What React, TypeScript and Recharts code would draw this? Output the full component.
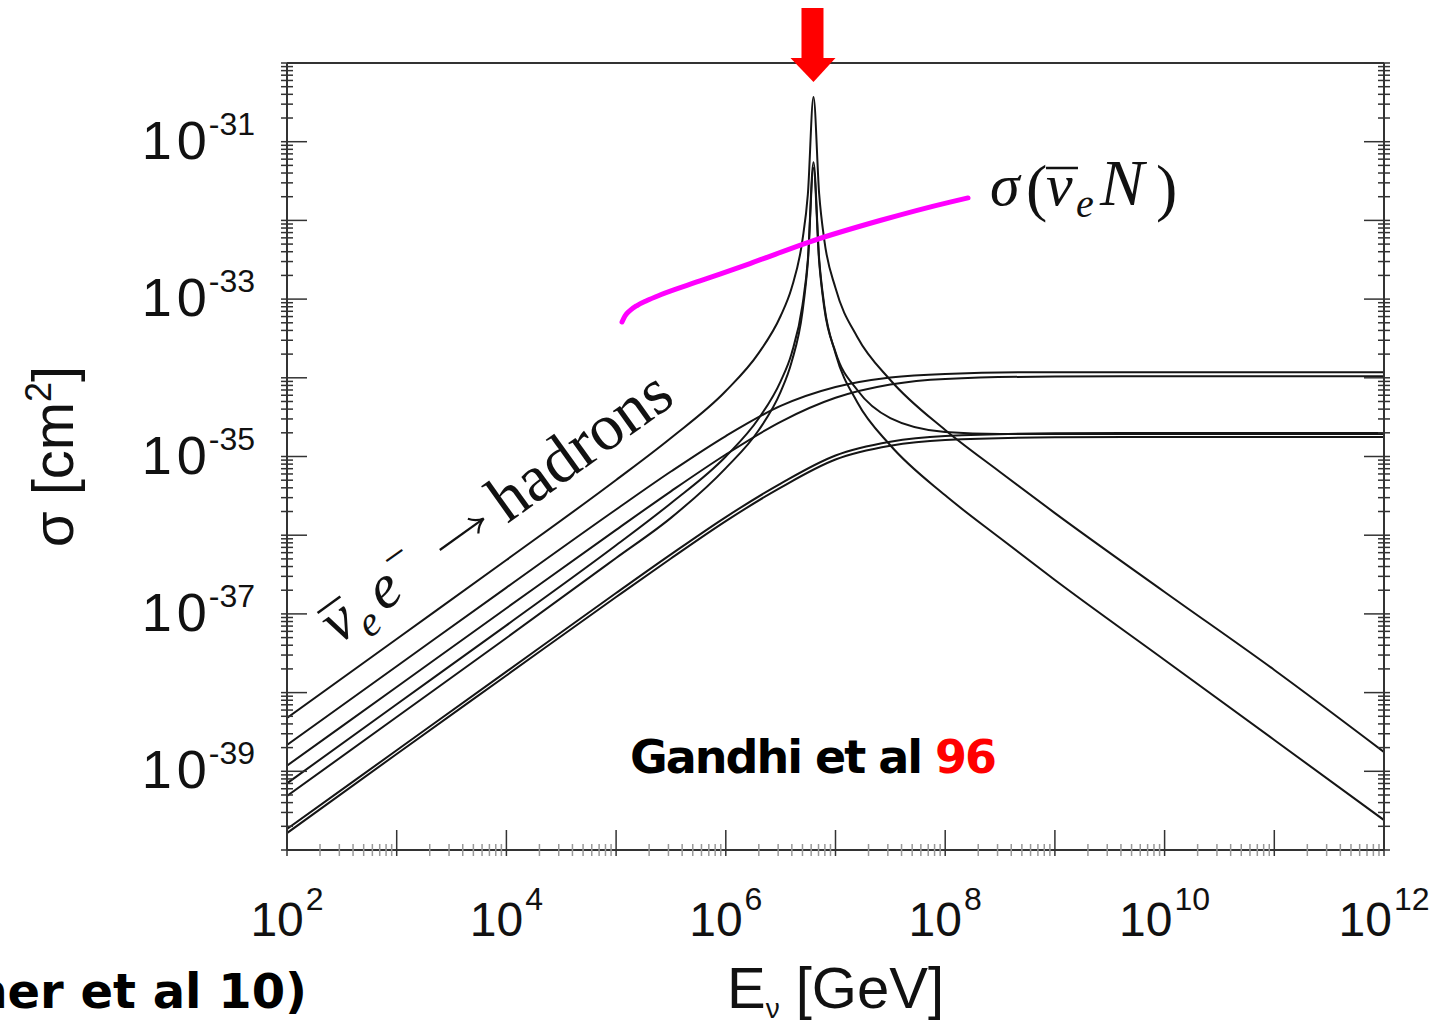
import React from "react";
import { LineChart, Line, XAxis, YAxis, ReferenceDot, Label } from "recharts";

// neutrino energy [GeV] and cross section [cm^2]
const resE = [1e2, 1e3, 1e4, 1e5, 3.16e5, 1e6, 2.0e6, 3.16e6, 3.98e6, 5.0e6, 5.6e6, 6.3e6, 7.1e6, 7.9e6, 1e7, 1.58e7, 3.16e7, 1e8, 3.16e8, 1e9, 1e10, 1e11, 1e12];
// anti-nu_e e -> hadrons
const hadronsS = [4.75e-39, 4.8e-38, 4.84e-37, 5.03e-36, 1.72e-35, 6.79e-35, 2.07e-34, 6.1e-34, 1.38e-33, 5.64e-33, 2.16e-32, 3.7e-31, 2.16e-32, 5.64e-33, 1.38e-33, 3.3e-34, 9.38e-35, 2.17e-35, 6.35e-36, 1.91e-36, 1.9e-37, 1.94e-38, 1.76e-39];
// anti-nu_e e -> anti-nu_mu mu
const numuMuS = [7.03e-40, 7.1e-39, 7.16e-38, 7.44e-37, 2.55e-36, 1.0e-35, 3.06e-35, 9.03e-35, 2.04e-34, 8.35e-34, 3.2e-33, 5.48e-32, 3.2e-33, 8.35e-34, 2.04e-34, 4.88e-35, 1.39e-35, 3.21e-36, 9.2e-37, 2.7e-37, 2.6e-38, 2.5e-39, 2.4e-40];
// anti-nu_e e -> anti-nu_e e
const nuebarES = [4.85e-40, 4.9e-39, 4.94e-38, 5.13e-37, 1.66e-36, 7.13e-36, 2.17e-35, 6.61e-35, 1.59e-34, 6.86e-34, 2.96e-33, 4.63e-32, 2.96e-33, 7.71e-34, 2.13e-34, 7.0e-35, 3.08e-35, 2.05e-35, 1.93e-35, 1.93e-35, 1.93e-35, 1.93e-35, 1.93e-35];

const tE = [1e2, 1e3, 1e4, 1e5, 3.16e5, 1e6, 3.16e6, 1e7, 3.16e7, 1e8, 1e9, 1e10, 1e11, 1e12];
// nu_mu e -> mu nu_e
const numuCCS = [2.16e-39, 2.16e-38, 2.16e-37, 2.12e-36, 6.44e-36, 1.82e-35, 4.39e-35, 7.64e-35, 1.01e-34, 1.12e-34, 1.18e-34, 1.18e-34, 1.18e-34, 1.18e-34];
// nu_e e -> nu_e e
const nueES = [1.18e-39, 1.18e-38, 1.18e-37, 1.17e-36, 3.61e-36, 1.06e-35, 2.76e-35, 5.57e-35, 8.22e-35, 9.68e-35, 1.04e-34, 1.05e-34, 1.05e-34, 1.05e-34];
// nu_mu e -> nu_mu e
const numuES = [1.85e-40, 1.85e-39, 1.85e-38, 1.84e-37, 5.7e-37, 1.7e-36, 4.53e-36, 1.03e-35, 1.54e-35, 1.82e-35, 1.97e-35, 1.99e-35, 1.99e-35, 1.99e-35];
// anti-nu_mu e -> anti-nu_mu e
const numubarES = [1.64e-40, 1.66e-39, 1.65e-38, 1.64e-37, 5.06e-37, 1.51e-36, 4.03e-36, 9.16e-36, 1.37e-35, 1.62e-35, 1.75e-35, 1.77e-35, 1.77e-35, 1.77e-35];

// sigma(anti-nu_e N), magenta
const nNE = [1.132e5, 1.205e5, 1.339e5, 1.551e5, 1.913e5, 2.513e5, 5.82e5, 1.662e6, 6.107e6, 2.545e7, 1.106e8, 1.614e8];
const nNS = [5.12e-34, 6.1e-34, 7.16e-34, 8.29e-34, 9.59e-34, 1.127e-33, 1.7e-33, 2.83e-33, 5.47e-33, 9.97e-33, 1.71e-32, 1.93e-32];

const xTickLabels = [2, 4, 6, 8, 10, 12];
const yTickLabels = [-31, -33, -35, -37, -39];

const pts = (es: number[], ss: number[]) => es.map((e, i) => ({ e, s: ss[i] }));

const blackSeries = [
  pts(resE, hadronsS),
  pts(resE, numuMuS),
  pts(resE, nuebarES),
  pts(tE, numuCCS),
  pts(tE, nueES),
  pts(tE, numuES),
  pts(tE, numubarES),
];
const nucleon = pts(nNE, nNS);

function logTicks(lo: number, hi: number) {
  const t: number[] = [];
  for (let d = lo; d < hi; d++) for (let m = 1; m < 10; m++) t.push(m * Math.pow(10, d));
  t.push(Math.pow(10, hi));
  return t;
}
const xTicks = logTicks(2, 12);
const yTicks = logTicks(-40, -30);

const isDecade = (v: number) => Math.abs(Math.log10(v) - Math.round(Math.log10(v))) < 1e-6;
const MAJ = 26;
const MIN = 12;
const sans = "'Liberation Sans', Arial, Helvetica, sans-serif";
const serif = "'Liberation Serif', 'Times New Roman', serif";
const bold = "'DejaVu Sans', Verdana, sans-serif";

const BottomTick = (p: any) => {
  const v = p.payload.value;
  const dec = isDecade(v);
  const n = Math.round(Math.log10(v));
  return (
    <g>
      <line x1={p.x} x2={p.x} y1={p.y} y2={p.y - (dec ? MAJ : MIN)} stroke={dec ? "#333" : "#999"} strokeWidth={1.5} />
      {dec && xTickLabels.includes(n) && (
        <text x={p.x} y={p.y + 80} textAnchor="middle" fontFamily={sans} fontSize={48} fill="#111">
          10<tspan dy={-26} dx={2} fontSize={32}>{n}</tspan>
        </text>
      )}
    </g>
  );
};

const TopTick = (p: any) => {
  const dec = isDecade(p.payload.value);
  return <line x1={p.x} x2={p.x} y1={p.y} y2={p.y + (dec ? MAJ : MIN)} stroke={dec ? "#333" : "#999"} strokeWidth={1.5} />;
};

const LeftTick = (p: any) => {
  const v = p.payload.value;
  const dec = isDecade(v);
  const n = Math.round(Math.log10(v));
  return (
    <g>
      <line x1={p.x} x2={p.x + (dec ? MAJ : MIN)} y1={p.y} y2={p.y} stroke="#333" strokeWidth={1.5} />
      {dec && yTickLabels.includes(n) && (
        <text x={p.x - 26} y={p.y + 17} textAnchor="end" fontFamily={sans} fontSize={54} fill="#111">
          <tspan>1</tspan>
          <tspan dx={5}>0</tspan>
          <tspan dy={-24} dx={2} fontSize={32}>{String(n)}</tspan>
        </text>
      )}
    </g>
  );
};

const RightTick = (p: any) => {
  const dec = isDecade(p.payload.value);
  return <line x1={p.x} x2={p.x - (dec ? MAJ : MIN)} y1={p.y} y2={p.y} stroke="#333" strokeWidth={1.5} />;
};

const XLabel = (p: any) => {
  const vb = p.viewBox;
  return (
    <g>
      <text x={vb.x + vb.width / 2} y={vb.y + 158} textAnchor="middle" fontFamily={sans} fontSize={58} fill="#111">
        E<tspan dy={10} fontSize={28}>ν</tspan>
        <tspan dy={-10}> [GeV]</tspan>
      </text>
      <text x={vb.x + 20} y={vb.y + 158} textAnchor="end" fontFamily={bold} fontWeight="bold" fontSize={48} fill="#000">
        ner et al 10)
      </text>
    </g>
  );
};

const YLabel = (p: any) => {
  const vb = p.viewBox;
  const cy = vb.y + vb.height / 2;
  return (
    <text transform={`translate(${vb.x + 73},${cy}) rotate(-90)`} textAnchor="middle" fontFamily={sans} fontSize={58} fill="#111">
      σ [cm<tspan dy={-22} fontSize={36}>2</tspan>
      <tspan dy={22}>]</tspan>
    </text>
  );
};

const Arrow = (p: any) => (
  <g>
    <rect x={p.cx - 12} y={p.cy - 55} width={22} height={52} fill="#ff0000" />
    <polygon points={`${p.cx - 23},${p.cy - 5} ${p.cx + 22},${p.cy - 5} ${p.cx},${p.cy + 19}`} fill="#ff0000" />
  </g>
);

const NucleonTag = (p: any) => {
  const x = p.cx;
  const y = p.cy;
  return (
    <g fontFamily={serif} fill="#111">
      <text x={x} y={y} fontSize={60} fontStyle="italic">σ</text>
      <text x={x + 36} y={y + 4} fontSize={64}>(</text>
      <text x={x + 56} y={y} fontSize={60} fontStyle="italic">ν</text>
      <text x={x + 86} y={y + 12} fontSize={40} fontStyle="italic">e</text>
      <text x={x + 110} y={y} fontSize={66} fontStyle="italic">N</text>
      <text x={x + 166} y={y + 4} fontSize={64}>)</text>
      <line x1={x + 56} x2={x + 88} y1={y - 37} y2={y - 37} stroke="#111" strokeWidth={2.5} />
    </g>
  );
};

const HadronTag = (p: any) => (
  <g transform={`translate(${p.cx},${p.cy}) rotate(-35.6)`} fontFamily={serif} fill="#111">
    <text x={0} y={0} fontSize={62} fontStyle="italic">ν</text>
    <text x={29} y={13} fontSize={42} fontStyle="italic">e</text>
    <text x={56} y={0} fontSize={62} fontStyle="italic">e</text>
    <text x={86} y={-26} fontSize={42}>−</text>
    <text x={208} y={0} fontSize={66}>hadrons</text>
    <line x1={2} x2={30} y1={-38} y2={-38} stroke="#111" strokeWidth={2.5} />
    <line x1={138} x2={191} y1={-18} y2={-18} stroke="#111" strokeWidth={2.2} />
    <path d="M179,-27 Q184,-20 192,-18 Q184,-16 179,-9" stroke="#111" strokeWidth={2.2} fill="none" />
  </g>
);

const GandhiTag = (p: any) => (
  <text x={p.cx} y={p.cy} fontFamily={bold} fontWeight="bold" fontSize={46} letterSpacing={-2} fill="#000">
    Gandhi et al <tspan fill="#ff0000">96</tspan>
  </text>
);

const axisStroke = { stroke: "#333", strokeWidth: 2 };

export default function App() {
  return (
    <div style={{ position: "absolute", left: 0, top: 0, width: 1448, height: 1024, background: "#fff" }}>
      <LineChart width={1448} height={1024} margin={{ top: 0, right: 0, bottom: 0, left: 0 }}>
        <XAxis
          dataKey="e"
          type="number"
          scale="log"
          domain={[1e2, 1e12]}
          allowDataOverflow
          ticks={xTicks}
          interval={0}
          tick={BottomTick}
          tickLine={false}
          tickMargin={0}
          height={174}
          axisLine={axisStroke}
        >
          <Label content={XLabel} />
        </XAxis>
        <XAxis
          xAxisId="top"
          orientation="top"
          type="number"
          scale="log"
          domain={[1e2, 1e12]}
          allowDataOverflow
          ticks={xTicks}
          interval={0}
          tick={TopTick}
          tickLine={false}
          tickMargin={0}
          height={63}
          axisLine={axisStroke}
        />
        <YAxis
          type="number"
          scale="log"
          domain={[1e-40, 1e-30]}
          allowDataOverflow
          ticks={yTicks}
          interval={0}
          tick={LeftTick}
          tickLine={false}
          tickMargin={0}
          width={287}
          axisLine={axisStroke}
        >
          <Label content={YLabel} />
        </YAxis>
        <YAxis
          yAxisId="right"
          orientation="right"
          type="number"
          scale="log"
          domain={[1e-40, 1e-30]}
          allowDataOverflow
          ticks={yTicks}
          interval={0}
          tick={RightTick}
          tickLine={false}
          tickMargin={0}
          width={64}
          axisLine={axisStroke}
        />
        {blackSeries.map((d, i) => (
          <Line
            key={i}
            data={d}
            dataKey="s"
            type="monotone"
            stroke="#151515"
            strokeWidth={2}
            dot={false}
            isAnimationActive={false}
          />
        ))}
        <Line data={nucleon} dataKey="s" type="monotone" stroke="#ff00ff" strokeWidth={5} strokeLinecap="round" dot={false} isAnimationActive={false} />
        <ReferenceDot x={6.3e6} y={1e-30} ifOverflow="visible" shape={Arrow} />
        <ReferenceDot x={2.56e8} y={1.57e-32} ifOverflow="visible" shape={NucleonTag} />
        <ReferenceDot x={2.92e2} y={4.03e-38} ifOverflow="visible" shape={HadronTag} />
        <ReferenceDot x={1.34e5} y={9.5e-40} ifOverflow="visible" shape={GandhiTag} />
      </LineChart>
    </div>
  );
}
